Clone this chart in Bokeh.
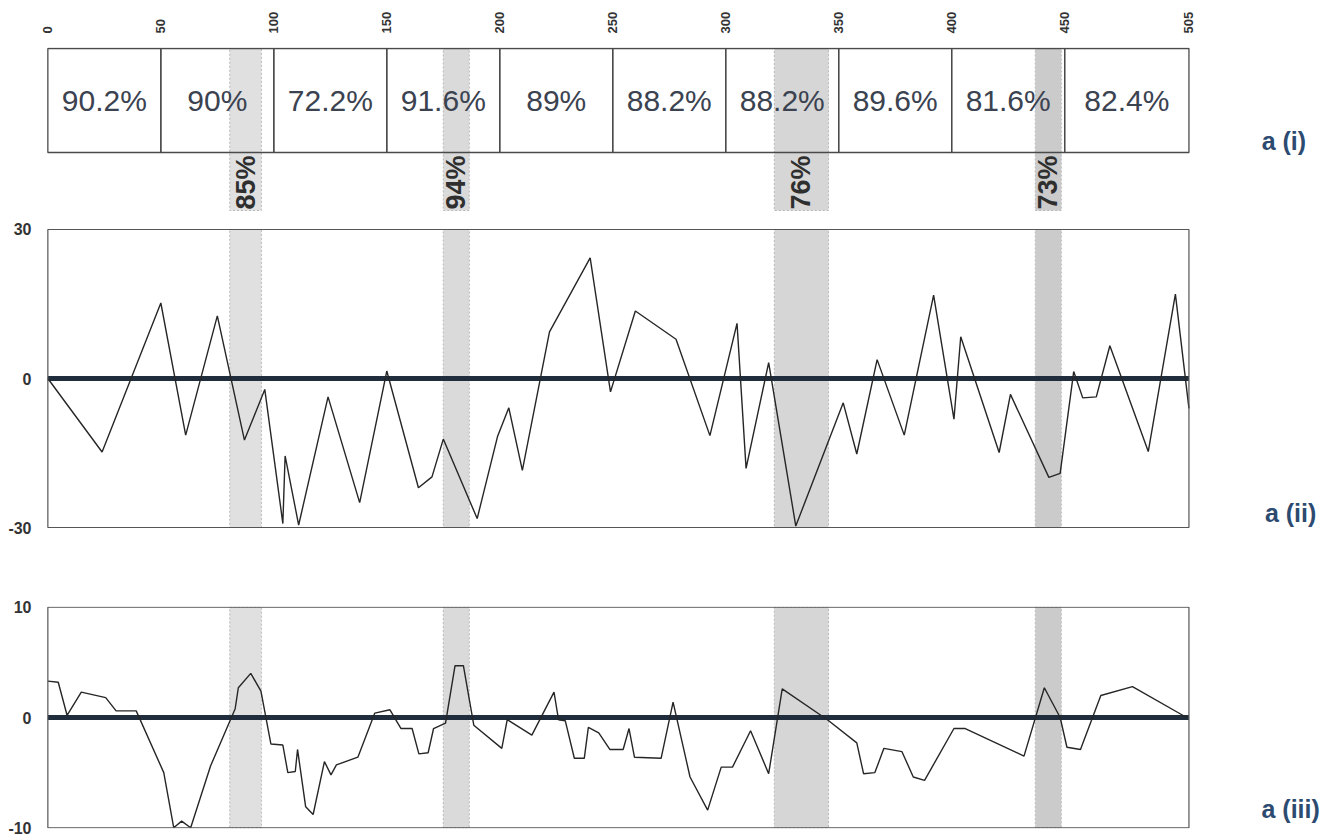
from math import pi
from bokeh.plotting import figure
from bokeh.layouts import column
from bokeh.models import Range1d, FixedTicker
from bokeh.core.properties import value
from bokeh.embed import file_html
from bokeh.resources import INLINE

# ---------------- data ----------------
seg_edges = [0, 50, 100, 150, 200, 250, 300, 350, 400, 450, 505]
seg_labels = ["90.2%", "90%", "72.2%", "91.6%", "89%", "88.2%", "88.2%", "89.6%", "81.6%", "82.4%"]
top_ticks = [0, 50, 100, 150, 200, 250, 300, 350, 400, 450, 505]

band_left = [80.5, 175, 321.5, 437]
band_right = [94.5, 186.5, 345.5, 448.5]
band_labels = ["85%", "94%", "76%", "73%"]
band_colors = ["#e0e0e0", "#dadada", "#d6d6d6", "#cbcbcb"]

mid_x = [0, 24, 50, 61, 75, 87, 96, 104, 105, 111, 124, 138, 150, 164, 170, 175, 190, 199, 204, 210,
         222, 240, 249, 260, 278, 293, 305, 309, 319, 331, 352, 358, 367, 379, 392, 401, 404, 421, 426, 443,
         448, 454, 458, 464, 470, 487, 499, 505]
mid_y = [0, -14.8, 15.2, -11.4, 12.6, -12.4, -2.2, -29.2, -15.6, -29.5, -3.7, -25.0, 1.5, -22.0, -19.8, -12.2, -28.2, -11.7, -5.9, -18.5,
         9.4, 24.3, -2.7, 13.6, 7.9, -11.5, 11.1, -18.1, 3.2, -29.7, -4.9, -15.2, 3.8, -11.4, 16.8, -8.2, 8.4, -14.9, -3.2, -19.9,
         -19.1, 1.4, -3.9, -3.7, 6.6, -14.7, 17.0, -6.0]
mid_ticks = [-30, 0, 30]

bot_x = [0, 4.6, 8.5, 14.8, 25.6, 30.2, 39.1, 51.3, 55.7, 59.2, 63.2, 72.0, 82.9, 84.3, 89.8, 94.3, 98.7, 104.0, 106.2, 109.5,
         110.5, 114.1, 117.4, 122.4, 125.3, 127.7, 137.2, 144.7, 151.4, 156.3, 161.2, 164.2, 168.3, 170.7, 176.0, 180.2, 183.9, 188.5, 200.9, 203.3,
         214.2, 224.0, 226.0, 229.0, 233.0, 237.4, 239.2, 243.8, 248.7, 254.6, 257.2, 259.6, 271.4, 276.7, 284.2, 292, 298, 303, 311, 319,
         325, 345, 358, 361, 366, 370, 378, 383, 388, 401, 406, 432, 441, 448, 451, 457, 466, 480, 504]
bot_y = [3.3, 3.2, 0.2, 2.3, 1.8, 0.6, 0.6, -5.0, -10.0, -9.4, -10.0, -4.4, 0.8, 2.7, 4.0, 2.4, -2.4, -2.5, -5.0, -4.9,
         -2.9, -8.1, -8.8, -4.0, -5.2, -4.3, -3.6, 0.4, 0.7, -1.0, -1.0, -3.3, -3.2, -1.0, -0.5, 4.7, 4.7, -0.7, -2.8, -0.2,
         -1.6, 2.3, -0.2, -0.3, -3.7, -3.7, -0.9, -1.4, -2.9, -2.9, -1.0, -3.6, -3.7, 1.4, -5.4, -8.4, -4.5, -4.5, -1.2, -5.1,
         2.6, -0.2, -2.3, -5.1, -5.0, -2.8, -3.1, -5.4, -5.7, -1.0, -1.0, -3.5, 2.7, 0.0, -2.7, -2.9, 2.0, 2.8, 0.0]
bot_ticks = [-10, 0, 10]

panel_names = ["a (i)", "a (ii)", "a (iii)"]

# ---------------- style ----------------
FONT = "Liberation Sans"
TXT = "#333333"
NAVY = "#2d4b70"
W = 1336
BL = 46
X0, X1 = -0.6, 570.3   # frame extends to the right edge so that panel names fit

def base(height, top, bottom, y_range, above=False):
    p = figure(width=W, height=height, x_range=Range1d(X0, X1), y_range=y_range,
               output_backend="svg", toolbar_location=None,
               x_axis_location="above" if above else None, y_axis_location=None if above else "left",
               min_border_left=BL, min_border_right=0, min_border_top=top, min_border_bottom=bottom)
    p.grid.visible = False
    p.outline_line_color = None
    p.background_fill_color = "white"
    p.border_fill_color = "white"
    return p

seg_l = seg_edges[:-1]
seg_r = seg_edges[1:]
seg_c = [(a + b) / 2 for a, b in zip(seg_l, seg_r)]
band_c = [(a + b) / 2 for a, b in zip(band_left, band_right)]

# ---------------- panel a(i) ----------------
p1 = base(215, 47, 0, Range1d(0, 168), above=True)
ax = p1.xaxis[0]
ax.ticker = FixedTicker(ticks=top_ticks)
ax.major_label_orientation = pi / 2
ax.axis_line_color = None
ax.major_tick_line_color = None
ax.minor_tick_line_color = None
ax.major_label_text_font = FONT
ax.major_label_text_font_style = "bold"
ax.major_label_text_font_size = "13px"
ax.major_label_text_color = TXT
ax.major_label_standoff = 8

p1.quad(left=band_left, right=band_right, bottom=5, top=167, fill_color=band_colors,
        line_color="#b8b8b8", line_dash="2 2", line_width=1)
p1.quad(left=seg_l, right=seg_r, bottom=63, top=167, fill_color=None,
        line_color="#4a4a4a", line_width=1.3)
p1.text(x=seg_c, y=115, text=seg_labels, text_font=value(FONT), text_font_size="30px",
        text_color="#3b4250", text_align="center", text_baseline="middle")
p1.text(x=band_c, y=33, text=band_labels, angle=pi / 2, text_font=value(FONT),
        text_font_style="bold", text_font_size="27px", text_color="#2f2f2f",
        text_align="center", text_baseline="middle")
p1.text(x=[547], y=[75], text=[panel_names[0]], text_font=value(FONT), text_font_size="25px",
        text_font_style="bold", text_color=NAVY, text_align="center", text_baseline="middle")

# ---------------- panels a(ii) / a(iii) ----------------
def line_panel(height, top, bottom, lo, hi, pad, xs, ys, ticks, name, name_y):
    p = base(height, top, bottom, Range1d(lo - pad, hi + pad))
    ya = p.yaxis[0]
    ya.ticker = FixedTicker(ticks=ticks)
    ya.major_label_overrides = {t: str(t) for t in ticks}
    ya.axis_line_color = None
    ya.major_tick_line_color = None
    ya.minor_tick_line_color = None
    ya.major_label_text_font = FONT
    ya.major_label_text_font_style = "bold"
    ya.major_label_text_font_size = "16px"
    ya.major_label_text_color = TXT
    ya.major_label_standoff = 9
    p.quad(left=band_left, right=band_right, bottom=lo, top=hi, fill_color=band_colors,
           line_color="#b8b8b8", line_dash="2 2", line_width=1)
    p.segment(x0=[seg_edges[0]], x1=[seg_edges[-1]], y0=[0], y1=[0],
              line_color="#1f2d3d", line_width=5)
    p.line(xs, ys, line_color="#262626", line_width=1.4)
    p.quad(left=[seg_edges[0]], right=[seg_edges[-1]], bottom=[lo], top=[hi], fill_color=None,
           line_color="#555555", line_width=1.2)
    p.text(x=[550], y=[name_y], text=[name], text_font=value(FONT), text_font_size="25px",
           text_font_style="bold", text_color=NAVY, text_align="center", text_baseline="middle")
    return p

p2 = line_panel(360, 13, 47, -30, 30, 0.2, mid_x, mid_y, mid_ticks, panel_names[1], -27.0)
p3 = line_panel(262, 31, 9, -10, 10, 0.07, bot_x, bot_y, bot_ticks, panel_names[2], -8.26)

layout = column(p1, p2, p3, spacing=0)
open("out.html", "w").write(file_html(layout, INLINE))
